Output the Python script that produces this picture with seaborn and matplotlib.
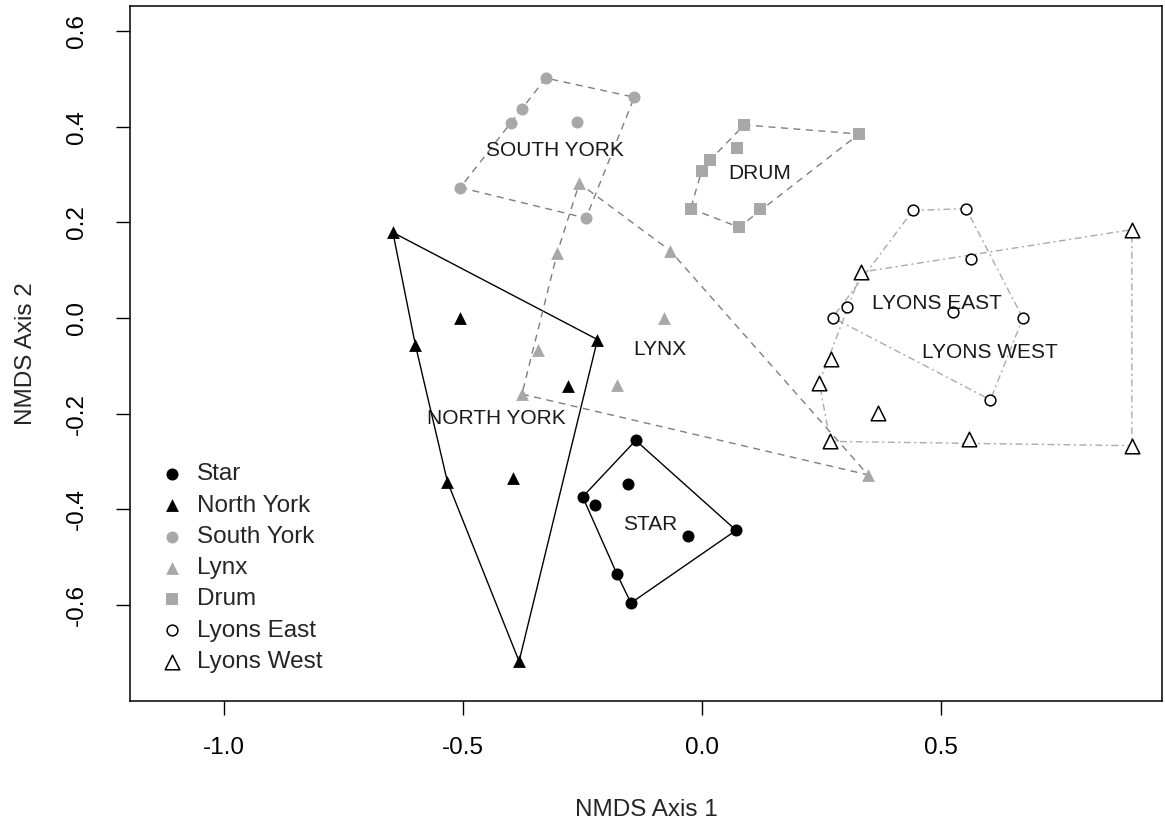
import numpy as np
import pandas as pd
import matplotlib
matplotlib.use("Agg")
import matplotlib.pyplot as plt
import seaborn as sns

sns.set_style("white")
plt.rcParams["font.family"] = ["Liberation Sans", "DejaVu Sans"]

# NMDS site scores per stream
star_x = [-0.139, -0.156, -0.250, -0.224, -0.030, 0.071, -0.178, -0.149]
star_y = [-0.256, -0.347, -0.374, -0.391, -0.455, -0.444, -0.536, -0.596]

north_york_x = [-0.647, -0.506, -0.600, -0.219, -0.280, -0.533, -0.395, -0.383]
north_york_y = [0.179, 0.000, -0.056, -0.045, -0.143, -0.342, -0.335, -0.718]

south_york_x = [-0.327, -0.142, -0.377, -0.400, -0.261, -0.506, -0.243]
south_york_y = [0.502, 0.462, 0.438, 0.408, 0.411, 0.273, 0.209]

lynx_x = [-0.257, -0.303, -0.067, -0.079, -0.344, -0.178, -0.377, 0.347]
lynx_y = [0.282, 0.137, 0.141, 0.001, -0.066, -0.140, -0.159, -0.328]

drum_x = [0.088, 0.328, 0.073, 0.017, -0.001, -0.024, 0.121, 0.077]
drum_y = [0.404, 0.385, 0.356, 0.331, 0.308, 0.229, 0.229, 0.190]

lyons_east_x = [0.441, 0.552, 0.562, 0.303, 0.273, 0.524, 0.671, 0.603]
lyons_east_y = [0.225, 0.229, 0.124, 0.024, 0.001, 0.013, 0.000, -0.171]

lyons_west_x = [0.899, 0.333, 0.269, 0.245, 0.367, 0.268, 0.559, 0.899]
lyons_west_y = [0.185, 0.096, -0.086, -0.135, -0.199, -0.258, -0.253, -0.267]

group_names = ["Star", "North York", "South York", "Lynx", "Drum", "Lyons East", "Lyons West"]
hull_labels = ["STAR", "NORTH YORK", "SOUTH YORK", "LYNX", "DRUM", "LYONS EAST", "LYONS WEST"]
label_x = [-0.109, -0.431, -0.309, -0.088, 0.121, 0.491, 0.601]
label_y = [-0.431, -0.211, 0.351, -0.066, 0.303, 0.030, -0.073]

x_ticks = [-1.0, -0.5, 0.0, 0.5]
y_ticks = [-0.6, -0.4, -0.2, 0.0, 0.2, 0.4, 0.6]

coords = {
    "Star": (star_x, star_y),
    "North York": (north_york_x, north_york_y),
    "South York": (south_york_x, south_york_y),
    "Lynx": (lynx_x, lynx_y),
    "Drum": (drum_x, drum_y),
    "Lyons East": (lyons_east_x, lyons_east_y),
    "Lyons West": (lyons_west_x, lyons_west_y),
}
df = pd.concat(
    [pd.DataFrame({"x": xs, "y": ys, "site": name}) for name, (xs, ys) in coords.items()],
    ignore_index=True,
)

GREY_PT = "#a8a8a8"
GREY_DASH = "#7f7f7f"
GREY_DOTDASH = "#ababab"
DASHED = (0, (5, 4))
DOTDASH = (0, (1.5, 2.5, 5, 2.5))

styles = {
    "Star":       dict(marker="o", fc="black", ec="black", s=75, lc="black", ls="-"),
    "North York": dict(marker="^", fc="black", ec="black", s=85, lc="black", ls="-"),
    "South York": dict(marker="o", fc=GREY_PT, ec=GREY_PT, s=75, lc=GREY_DASH, ls=DASHED),
    "Lynx":       dict(marker="^", fc=GREY_PT, ec=GREY_PT, s=85, lc=GREY_DASH, ls=DASHED),
    "Drum":       dict(marker="s", fc=GREY_PT, ec=GREY_PT, s=70, lc=GREY_DASH, ls=DASHED),
    "Lyons East": dict(marker="o", fc="white", ec="black", s=60, lc=GREY_DOTDASH, ls=DOTDASH),
    "Lyons West": dict(marker="^", fc="white", ec="black", s=110, lc=GREY_DOTDASH, ls=DOTDASH),
}


def convex_hull(points):
    pts = sorted(set(points))
    if len(pts) <= 2:
        return pts

    def cross(o, a, b):
        return (a[0] - o[0]) * (b[1] - o[1]) - (a[1] - o[1]) * (b[0] - o[0])

    lower, upper = [], []
    for p in pts:
        while len(lower) >= 2 and cross(lower[-2], lower[-1], p) <= 0:
            lower.pop()
        lower.append(p)
    for p in reversed(pts):
        while len(upper) >= 2 and cross(upper[-2], upper[-1], p) <= 0:
            upper.pop()
        upper.append(p)
    return lower[:-1] + upper[:-1]


fig = plt.figure(figsize=(11.65, 8.27), dpi=100)
ax = fig.add_axes([0.1116, 0.1524, 0.8858, 0.8399])

# convex hulls around each stream
for name in group_names:
    sub = df[df.site == name]
    hull = convex_hull(list(zip(sub.x, sub.y)))
    hull.append(hull[0])
    hx, hy = zip(*hull)
    st = styles[name]
    ax.plot(hx, hy, color=st["lc"], linestyle=st["ls"], linewidth=1.0, zorder=1)

# site points
for name in group_names:
    st = styles[name]
    sns.scatterplot(
        data=df[df.site == name], x="x", y="y", ax=ax,
        marker=st["marker"], color=st["fc"], edgecolor=st["ec"],
        linewidth=1.1 if st["fc"] == "white" else 0, s=st["s"],
        label=name, zorder=3,
    )

for txt, lx, ly in zip(hull_labels, label_x, label_y):
    ax.text(lx, ly, txt, ha="center", va="center", fontsize=15, color="#1a1a1a", zorder=4)

ax.set_xlim(-1.197, 0.962)
ax.set_ylim(-0.801, 0.652)
ax.set_xticks(x_ticks)
ax.set_yticks(y_ticks)
ax.set_xticklabels([f"{v:.1f}" for v in x_ticks])
ax.set_yticklabels([f"{v:.1f}" for v in y_ticks], rotation=90, va="center")
ax.tick_params(axis="x", which="major", direction="out", length=10, width=1.0,
               labelsize=17.5, pad=16, colors="black", bottom=True)
ax.tick_params(axis="y", which="major", direction="out", length=10, width=1.0,
               labelsize=17.5, pad=20, colors="black", left=True)
ax.set_xlabel("NMDS Axis 1", fontsize=17.5, labelpad=29)
ax.set_ylabel("NMDS Axis 2", fontsize=17.5, labelpad=21)
for sp in ax.spines.values():
    sp.set_color("black")
    sp.set_linewidth(1.1)

leg = ax.legend(loc="upper left", bbox_to_anchor=(0.017, 0.356), frameon=False,
                fontsize=17.5, handletextpad=0.45, labelspacing=0.38,
                handlelength=1.2, borderaxespad=0)

fig.savefig("out.png", dpi=100)
